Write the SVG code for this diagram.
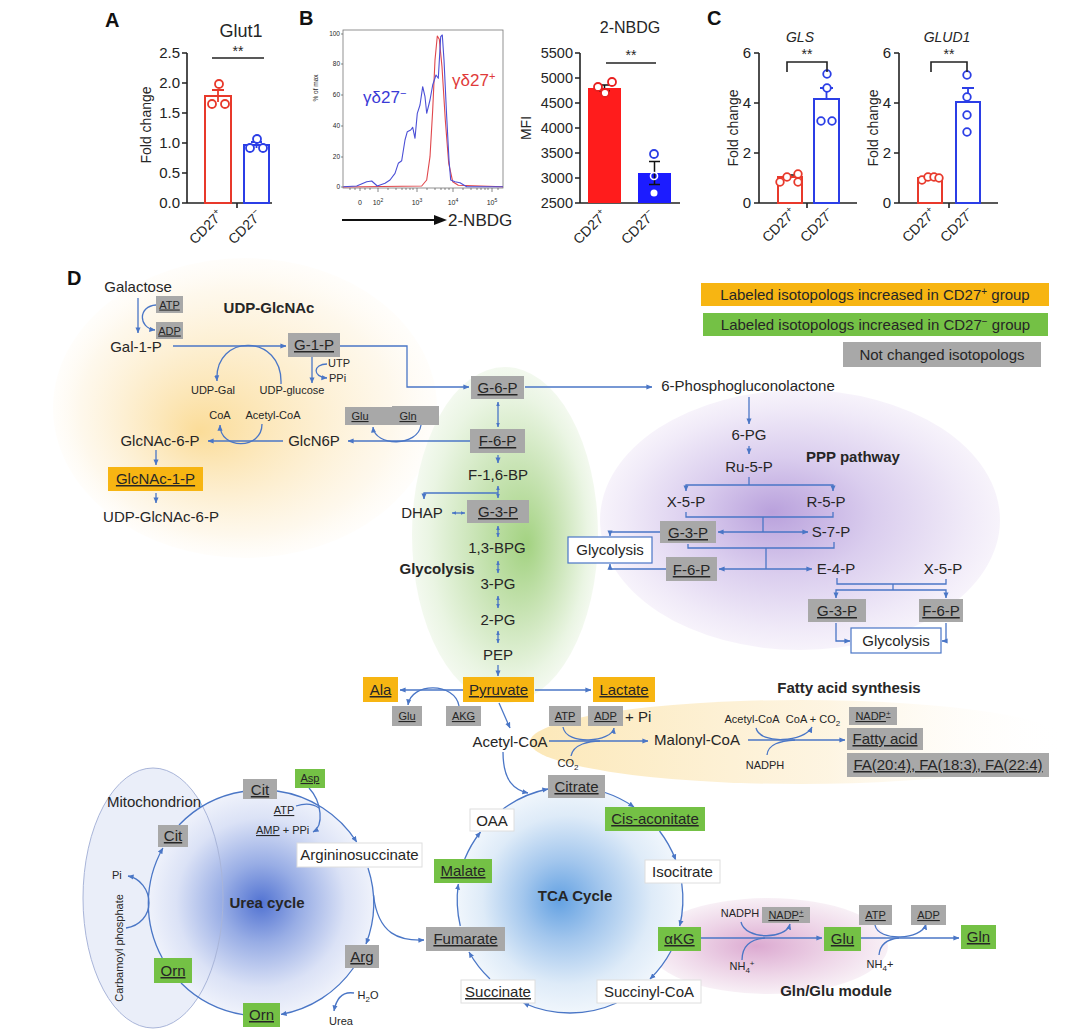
<svg xmlns="http://www.w3.org/2000/svg" width="1078" height="1036" viewBox="0 0 1078 1036">
<defs>
<style>
text{font-family:"Liberation Sans",Arial,Helvetica,sans-serif;fill:#262626}
.m{font-size:15px;text-anchor:middle}
.s{font-size:11px;text-anchor:middle}
.b{font-size:15px;font-weight:bold;text-anchor:middle}
.u{text-decoration:underline}
.ln{fill:none;stroke:#4a76c6;stroke-width:1.3}
.ar{marker-end:url(#ah)}
.da{marker-start:url(#ah2);marker-end:url(#ah2)}
.gy{fill:#a8a8a8}
.or{fill:#f7b512}
.gr{fill:#74c145}
.wb{fill:#fff;stroke:#dedede;stroke-width:1}
.bb{fill:#fff;stroke:#4a76c6;stroke-width:1.2}
.ax{stroke:#222;stroke-width:1.6;fill:none}
.tk{font-size:15px;text-anchor:end;fill:#222}
.pl{font-size:20px;font-weight:bold;fill:#111}
.rc{fill:#fff;stroke:#e8392b;stroke-width:1.8}
.bc{fill:#fff;stroke:#2b3ee6;stroke-width:1.8}
</style>
<marker id="ah" viewBox="0 0 8 8" refX="7.5" refY="4" markerWidth="6" markerHeight="6" markerUnits="userSpaceOnUse" orient="auto-start-reverse"><path d="M0,0.6 L8,4 L0,7.4 Z" fill="#4a76c6"/></marker>
<marker id="ah2" viewBox="0 0 8 8" refX="7.5" refY="4" markerWidth="4.5" markerHeight="4.5" markerUnits="userSpaceOnUse" orient="auto-start-reverse"><path d="M0,0.6 L8,4 L0,7.4 Z" fill="#4a76c6"/></marker>
<radialGradient id="gY" cx="0.5" cy="0.5" r="0.5" fx="0.38" fy="0.58">
<stop offset="0" stop-color="#f9cd6c" stop-opacity="0.7"/><stop offset="0.45" stop-color="#fbdfa3" stop-opacity="0.55"/><stop offset="0.82" stop-color="#fdf0d6" stop-opacity="0.45"/><stop offset="1" stop-color="#fff9ee" stop-opacity="0.25"/></radialGradient>
<radialGradient id="gG" cx="0.5" cy="0.5" r="0.5" fx="0.62" fy="0.53">
<stop offset="0" stop-color="#a3d281"/><stop offset="0.5" stop-color="#cde6bb"/><stop offset="0.85" stop-color="#eaf5e3"/><stop offset="1" stop-color="#f3f9ef"/></radialGradient>
<radialGradient id="gP" cx="0.5" cy="0.5" r="0.5" fx="0.43" fy="0.47">
<stop offset="0" stop-color="#b9a1dc"/><stop offset="0.45" stop-color="#dacdee"/><stop offset="0.85" stop-color="#f0eaf8"/><stop offset="1" stop-color="#f7f3fb"/></radialGradient>
<linearGradient id="gF" x1="0" y1="0" x2="1" y2="0">
<stop offset="0" stop-color="#fce8b8"/><stop offset="0.55" stop-color="#fdf2da" stop-opacity="0.8"/><stop offset="1" stop-color="#ffffff" stop-opacity="0"/></linearGradient>
<radialGradient id="gK" cx="0.5" cy="0.5" r="0.5" fx="0.45" fy="0.5">
<stop offset="0" stop-color="#dcaad1"/><stop offset="0.6" stop-color="#eed6e8"/><stop offset="1" stop-color="#f8f0f6"/></radialGradient>
<radialGradient id="gU" cx="0.5" cy="0.5" r="0.5">
<stop offset="0" stop-color="#5273d2"/><stop offset="0.35" stop-color="#98ade5"/><stop offset="0.75" stop-color="#dbe2f6"/><stop offset="1" stop-color="#eff2fb"/></radialGradient>
<radialGradient id="gT" cx="0.5" cy="0.5" r="0.5" fx="0.45" fy="0.5">
<stop offset="0" stop-color="#63a1e2"/><stop offset="0.35" stop-color="#a2c6ed"/><stop offset="0.75" stop-color="#deebf8"/><stop offset="1" stop-color="#f0f6fc"/></radialGradient>
</defs>
<rect width="1078" height="1036" fill="#fff"/>

<!-- ===== Panel A ===== -->
<g id="panelA">
<text class="pl" x="105" y="27">A</text>
<text x="241" y="37" font-size="18" text-anchor="middle">Glut1</text>
<path class="ax" d="M187,53 V203 H272 M182,53H187 M182,83H187 M182,113H187 M182,143H187 M182,173H187 M182,203H187 M237,203V208"/>
<text class="tk" x="180" y="58">2.5</text><text class="tk" x="180" y="88">2.0</text><text class="tk" x="180" y="118">1.5</text><text class="tk" x="180" y="148">1.0</text><text class="tk" x="180" y="178">0.5</text><text class="tk" x="180" y="208">0.0</text>
<text x="151" y="125" font-size="14" text-anchor="middle" transform="rotate(-90 151 125)">Fold change</text>
<rect x="205" y="96" width="26" height="107" fill="#fff" stroke="#e8392b" stroke-width="2"/>
<rect x="244" y="145" width="25" height="58" fill="#fff" stroke="#2b3ee6" stroke-width="2"/>
<path d="M218,90V102 M212,90H224" stroke="#e8392b" stroke-width="1.8"/>
<path d="M256.5,142V148 M251,142H262" stroke="#2b3ee6" stroke-width="1.8"/>
<circle class="rc" cx="219" cy="84" r="4"/><circle class="rc" cx="212" cy="104" r="4"/><circle class="rc" cx="225" cy="104" r="4"/>
<circle class="bc" cx="257" cy="139" r="4"/><circle class="bc" cx="250" cy="148" r="4"/><circle class="bc" cx="263" cy="148" r="4"/>
<path d="M212,58H264" stroke="#222" stroke-width="1.6"/>
<text x="238" y="56" font-size="14" text-anchor="middle">**</text>
<text x="224" y="216" font-size="14" text-anchor="end" transform="rotate(-45 224 216)">CD27<tspan dy="-6" font-size="9">+</tspan></text>
<text x="263" y="216" font-size="14" text-anchor="end" transform="rotate(-45 263 216)">CD27<tspan dy="-6" font-size="9">−</tspan></text>
</g>

<!-- ===== Panel B (histogram) ===== -->
<g id="panelB1">
<text class="pl" x="299" y="25">B</text>
<rect x="343" y="30" width="160" height="158" fill="none" stroke="#777" stroke-width="0.8"/>
<g font-size="6.5" text-anchor="end"><text x="340" y="36">100</text><text x="340" y="66">80</text><text x="340" y="97">60</text><text x="340" y="128">40</text><text x="340" y="159">20</text><text x="340" y="189">0</text></g>
<path d="M341,34H343 M341,64H343 M341,95H343 M341,126H343 M341,157H343 M341,187H343 M360,188V191 M378,188V192 M417,188V192 M453,188V192 M492,188V192 M350,188V190 M355,188V190 M365,188V190 M370,188V190 M388,188V190 M396,188V190 M402,188V190 M406,188V190 M410,188V190 M413,188V190 M427,188V190 M435,188V190 M441,188V190 M445,188V190 M449,188V190 M463,188V190 M471,188V190 M477,188V190 M481,188V190 M485,188V190 M488,188V190 M498,188V190" stroke="#555" stroke-width="0.7"/>
<text x="318" y="88" font-size="6.5" text-anchor="middle" transform="rotate(-90 318 88)">% of max</text>
<g font-size="7" text-anchor="middle"><text x="360" y="205">0</text><text x="378" y="205">10<tspan dy="-3" font-size="5">2</tspan></text><text x="417" y="205">10<tspan dy="-3" font-size="5">3</tspan></text><text x="453" y="205">10<tspan dy="-3" font-size="5">4</tspan></text><text x="492" y="205">10<tspan dy="-3" font-size="5">5</tspan></text></g>
<polyline fill="none" stroke="#e0474c" stroke-width="1.1" stroke-linejoin="round" points="343,187 421.7,186 426.7,180 430,156.7 432.7,110 435,60 437.3,36 439.3,39.3 442,66.7 445.3,120 448.7,163.3 452.7,181.7 458.3,185.3 503,186.7"/>
<polyline fill="none" stroke="#4b4fd6" stroke-width="1.1" stroke-linejoin="round" points="343.3,186.7 356.7,186 366.7,181.7 371.7,181 377.3,186 385,183.3 390,180 395,173.3 398.3,163.3 401.7,160.7 405,140 407.3,131.7 410.7,130 412.7,127.3 415,138.3 417.3,113.3 420,105 422.7,86.7 425,96.7 426.7,113.3 430,100 432.7,85 436,75 438.3,78.3 440.7,36.7 442.3,35 444,60 446.7,116.7 449,160 450.7,180 455,181.7 460,182.7 466.7,186.7 503,186.7"/>
<text x="363" y="103" font-size="17" style="fill:#3a3ad6">γδ27<tspan dy="-6" font-size="11" style="fill:#3a3ad6">−</tspan></text>
<text x="452" y="86" font-size="17" style="fill:#e03a3a">γδ27<tspan dy="-6" font-size="11" style="fill:#e03a3a">+</tspan></text>
<path d="M342,220H437" stroke="#111" stroke-width="2"/>
<polygon points="434,215 447,220 434,225" fill="#111"/>
<text x="448" y="226" font-size="17">2-NBDG</text>
</g>

<!-- ===== Panel B (bar) ===== -->
<g id="panelB2">
<text x="630" y="33" font-size="16" text-anchor="middle">2-NBDG</text>
<path class="ax" d="M580,53V203H680 M575,53H580 M575,78H580 M575,103H580 M575,128H580 M575,153H580 M575,178H580 M575,203H580"/>
<g font-size="14.5" text-anchor="end"><text x="573" y="58">5500</text><text x="573" y="83">5000</text><text x="573" y="108">4500</text><text x="573" y="133">4000</text><text x="573" y="158">3500</text><text x="573" y="183">3000</text><text x="573" y="208">2500</text></g>
<text x="531" y="128" font-size="14" text-anchor="middle" transform="rotate(-90 531 128)">MFI</text>
<rect x="588" y="88" width="33" height="115" fill="#ff1c1c"/>
<rect x="638" y="173" width="33" height="30" fill="#1c1cff"/>
<path d="M604.5,85V91 M599,85H610 M599,91H610 M654.5,161.5V184.5 M649,161.5H660 M649,184.5H660" stroke="#111" stroke-width="1.5"/>
<circle cx="598" cy="87" r="4" fill="#fff" stroke="#e82020" stroke-width="1.8"/><circle cx="612" cy="82" r="4" fill="#fff" stroke="#e82020" stroke-width="1.8"/><circle cx="605" cy="93" r="4" fill="#fff" stroke="#e82020" stroke-width="1.8"/>
<circle cx="654" cy="154" r="4" fill="#fff" stroke="#2b3ee6" stroke-width="1.8"/><circle cx="654" cy="176" r="3.5" fill="none" stroke="#fff" stroke-width="1.6"/><circle cx="654" cy="193" r="3.5" fill="#fff"/>
<path d="M606,63H656" stroke="#222" stroke-width="1.6"/>
<text x="631" y="60" font-size="14" text-anchor="middle">**</text>
<text x="608" y="216" font-size="14" text-anchor="end" transform="rotate(-45 608 216)">CD27<tspan dy="-6" font-size="9">+</tspan></text>
<text x="656" y="216" font-size="14" text-anchor="end" transform="rotate(-45 656 216)">CD27<tspan dy="-6" font-size="9">−</tspan></text>
</g>

<!-- ===== Panel C ===== -->
<g id="panelC1">
<text class="pl" x="707" y="25">C</text>
<text x="800" y="42" font-size="14" font-style="italic" text-anchor="middle">GLS</text>
<path class="ax" d="M759,53V203H857 M754,53H759 M754,103H759 M754,153H759 M754,203H759 M807,203V208"/>
<text class="tk" x="751" y="58">6</text><text class="tk" x="751" y="108">4</text><text class="tk" x="751" y="158">2</text><text class="tk" x="751" y="208">0</text>
<text x="738" y="128" font-size="14" text-anchor="middle" transform="rotate(-90 738 128)">Fold change</text>
<rect x="778" y="177" width="24" height="26" fill="#fff" stroke="#e8392b" stroke-width="2"/>
<rect x="814" y="99" width="25" height="104" fill="#fff" stroke="#2b3ee6" stroke-width="2"/>
<path d="M784,175H796" stroke="#222" stroke-width="1.6"/>
<path d="M826.5,88V99 M820,88H833" stroke="#2b3ee6" stroke-width="1.8"/>
<circle class="rc" cx="780" cy="182" r="3.8"/><circle class="rc" cx="787" cy="177" r="3.8"/><circle class="rc" cx="798" cy="174" r="3.8"/><circle class="rc" cx="798" cy="182" r="3.8"/>
<circle class="bc" cx="827" cy="74" r="3.8"/><circle class="bc" cx="827" cy="88" r="3.8"/><circle class="bc" cx="821" cy="121" r="3.8"/><circle class="bc" cx="832" cy="121" r="3.8"/>
<path d="M787,72V62H827V72" fill="none" stroke="#222" stroke-width="1.6"/>
<text x="807" y="59" font-size="14" text-anchor="middle">**</text>
<text x="797" y="214" font-size="14" text-anchor="end" transform="rotate(-45 797 214)">CD27<tspan dy="-6" font-size="9">+</tspan></text>
<text x="835" y="214" font-size="14" text-anchor="end" transform="rotate(-45 835 214)">CD27<tspan dy="-6" font-size="9">−</tspan></text>
</g>
<g id="panelC2">
<text x="947" y="42" font-size="14" font-style="italic" text-anchor="middle">GLUD1</text>
<path class="ax" d="M899,53V203H998 M894,53H899 M894,103H899 M894,153H899 M894,203H899 M949,203V208"/>
<text class="tk" x="891" y="58">6</text><text class="tk" x="891" y="108">4</text><text class="tk" x="891" y="158">2</text><text class="tk" x="891" y="208">0</text>
<text x="878" y="128" font-size="14" text-anchor="middle" transform="rotate(-90 878 128)">Fold change</text>
<rect x="918" y="178" width="24" height="25" fill="#fff" stroke="#e8392b" stroke-width="2"/>
<rect x="956" y="102" width="24" height="101" fill="#fff" stroke="#2b3ee6" stroke-width="2"/>
<path d="M924,177H936" stroke="#222" stroke-width="1.6"/>
<path d="M968,88V102 M962,88H974" stroke="#2b3ee6" stroke-width="1.8"/>
<circle class="rc" cx="922" cy="180" r="3.8"/><circle class="rc" cx="928" cy="177" r="3.8"/><circle class="rc" cx="934" cy="177" r="3.8"/><circle class="rc" cx="939" cy="178" r="3.8"/>
<circle class="bc" cx="967" cy="75" r="3.8"/><circle class="bc" cx="967" cy="97" r="3.8"/><circle class="bc" cx="967" cy="115" r="3.8"/><circle class="bc" cx="967" cy="132" r="3.8"/>
<path d="M931,72V62H967V72" fill="none" stroke="#222" stroke-width="1.6"/>
<text x="949" y="59" font-size="14" text-anchor="middle">**</text>
<text x="937" y="214" font-size="14" text-anchor="end" transform="rotate(-45 937 214)">CD27<tspan dy="-6" font-size="9">+</tspan></text>
<text x="975" y="214" font-size="14" text-anchor="end" transform="rotate(-45 975 214)">CD27<tspan dy="-6" font-size="9">−</tspan></text>
</g>

<!-- ===== Panel D backgrounds ===== -->
<g id="backgrounds">
<ellipse cx="245" cy="408" rx="192" ry="150" fill="url(#gY)"/>
<ellipse cx="505" cy="535" rx="93" ry="168" fill="url(#gG)"/>
<ellipse cx="800" cy="520" rx="200" ry="130" fill="url(#gP)"/>
<ellipse cx="800" cy="742" rx="270" ry="42" fill="url(#gF)"/>
<ellipse cx="768" cy="946" rx="120" ry="48" fill="url(#gK)"/>
<ellipse cx="153" cy="898" rx="70" ry="130" fill="#eaeef9"/>
<circle cx="261" cy="903" r="113" fill="url(#gU)"/>
<ellipse cx="153" cy="898" rx="70" ry="130" fill="none" stroke="#a9b5d9" stroke-width="1"/>
<circle cx="570" cy="900" r="113" fill="url(#gT)"/>
</g>
<text class="pl" x="67" y="285">D</text>

<!-- ===== Connectors ===== -->
<g id="connectors">
<path class="ln ar" d="M138,298V333"/>
<path class="ln ar" d="M156,305C138,306 138,328 155,330"/>
<path class="ln ar" d="M173,346H286"/>
<path class="ln ar" d="M340,346H407V387H469"/>
<path class="ln ar" d="M312,357V383"/>
<path class="ln ar" d="M327,364C313,364 312,377 327,378"/>
<path class="ln ar" d="M281,384C283,333 214,333 217,381"/>
<path class="ln ar" d="M262,424C262,450 220,450 220,425"/>
<path class="ln ar" d="M470,441H348"/>
<path class="ln ar" d="M421,425C418,447 375,447 373,427"/>
<path class="ln ar" d="M283,441H208"/>
<path class="ln ar" d="M156,450V465"/>
<path class="ln ar" d="M156,493V503"/>

<path class="ln da" d="M498,402V427"/>
<path class="ln ar" d="M498,455V463"/>
<path class="ln da" d="M498,486V498"/>
<path class="ln ar" d="M498,493H424V499"/>
<path class="ln da" d="M452,513H465"/>
<path class="ln da" d="M498,526V537"/>
<path class="ln da" d="M498,561V573"/>
<path class="ln da" d="M498,596V608"/>
<path class="ln da" d="M498,631V643"/>
<path class="ln ar" d="M498,665V676"/>

<path class="ln ar" d="M525,387H652"/>
<path class="ln ar" d="M749,397V424"/>
<path class="ln ar" d="M749,446V454"/>
<path class="ln" d="M749,477V485"/>
<path class="ln ar" d="M749,485H686V491"/>
<path class="ln ar" d="M749,485H833V491"/>
<path class="ln" d="M686,512V517H833V512 M763,517V532"/>
<path class="ln ar" d="M763,532H718"/>
<path class="ln ar" d="M763,532H808"/>
<path class="ln" d="M688,544V548H834V542 M766,548V569"/>
<path class="ln ar" d="M766,569H719"/>
<path class="ln ar" d="M766,569H812"/>
<path class="ln" d="M837,578V584H946V579 M893,584V590"/>
<path class="ln ar" d="M893,590H836V598"/>
<path class="ln ar" d="M893,590H946V598"/>
<path class="ln ar" d="M836,623V641H850"/>
<path class="ln ar" d="M946,623V641H942"/>
<path class="ln ar" d="M660,532H610V536"/>
<path class="ln ar" d="M666,569H610V564"/>

<path class="ln ar" d="M463,690H400"/>
<path class="ln ar" d="M459,706C455,682 411,682 408,705"/>
<path class="ln ar" d="M535,690H591"/>
<path class="ln ar" d="M499,703L510,728"/>
<path class="ln ar" d="M549,741H648"/>
<path class="ln ar" d="M563,727C566,746 612,742 614,728"/>
<path class="ln" d="M571,756C573,744 590,741 600,741"/>
<path class="ln ar" d="M503,752C503,782 515,790 528,793"/>
<path class="ln ar" d="M748,740H845"/>
<path class="ln ar" d="M756,728C760,745 805,742 812,727"/>
<path class="ln" d="M767,755C768,744 780,741 795,740"/>

<path class="ln ar" d="M605,792.5A113,113 0 0,1 634,807"/>
<path class="ln ar" d="M659.5,831A113,113 0 0,1 675.7,860"/>
<path class="ln ar" d="M681.7,883A113,113 0 0,1 679.7,926"/>
<path class="ln ar" d="M671,951A113,113 0 0,1 650,979"/>
<path class="ln ar" d="M616.5,1003A113,113 0 0,1 523.5,1003"/>
<path class="ln ar" d="M490,979A113,113 0 0,1 469,952"/>
<path class="ln ar" d="M460.3,926A113,113 0 0,1 458.3,884"/>
<path class="ln ar" d="M464.7,859A113,113 0 0,1 480.5,832"/>
<path class="ln ar" d="M503,809A113,113 0 0,1 548,789"/>

<path class="ln ar" d="M701,938H822"/>
<path class="ln ar" d="M741,922C745,940 786,940 790,924"/>
<path class="ln" d="M742,960C742,945 752,939 765,938"/>
<path class="ln ar" d="M861,938H959"/>
<path class="ln ar" d="M875,925C878,942 922,940 926,924"/>
<path class="ln" d="M879,955C880,944 888,939 899,938"/>

<path class="ln ar" d="M277,791A113,113 0 0,1 356.7,842"/>
<path class="ln ar" d="M368,868A113,113 0 0,1 366,944"/>
<path class="ln ar" d="M373.5,895C378,935 400,941 424,940"/>
<path class="ln ar" d="M353.4,968A113,113 0 0,1 281,1014.4"/>
<path class="ln ar" d="M354,993C341,991 336,1000 334,1011"/>
<path class="ln" d="M243,1014.6A113,113 0 0,1 181,983"/>
<path class="ln ar" d="M162.3,958A113,113 0 0,1 162.9,848"/>
<path class="ln" d="M179,825A113,113 0 0,1 243,791.5"/>
<path class="ln ar" d="M126,928C140,926 149,915 149,903C149,890 140,878 128,876"/>
<path class="ln ar" d="M309,788C322,802 324,826 313,832"/>
<path class="ln" d="M296,806C305,803 312,803 319,808"/>
</g>

<!-- ===== Legend ===== -->
<g id="legend-cd27pos"><rect class="or" x="701" y="283" width="348" height="23"/><text class="m" x="875" y="300">Labeled isotopologs increased in CD27<tspan dy="-5" font-size="10">+</tspan><tspan dy="5"> group</tspan></text></g>
<g id="legend-cd27neg"><rect class="gr" x="703" y="313" width="345" height="23"/><text class="m" x="875.5" y="330">Labeled isotopologs increased in CD27<tspan dy="-5" font-size="10">−</tspan><tspan dy="5"> group</tspan></text></g>
<g id="legend-nc"><rect class="gy" x="843" y="342" width="198" height="25"/><text class="m" x="942" y="360">Not changed isotopologs</text></g>

<!-- ===== UDP-GlcNAc ===== -->
<g id="n-galactose"><text class="m" x="138" y="292">Galactose</text></g>
<g id="n-atp1"><rect class="gy" x="156" y="296" width="27" height="17"/><text class="s u" x="169.5" y="308.5">ATP</text></g>
<g id="n-adp1"><rect class="gy" x="156" y="322" width="27" height="17"/><text class="s u" x="169.5" y="334.5">ADP</text></g>
<g id="n-gal1p"><text class="m" x="136" y="352">Gal-1-P</text></g>
<g id="l-udpglcnac"><text class="b" x="269" y="313">UDP-GlcNAc</text></g>
<g id="n-g1p"><rect class="gy" x="288" y="333" width="52" height="24"/><text class="m u" x="314" y="350">G-1-P</text></g>
<g id="n-utp"><text x="328" y="367" font-size="11">UTP</text></g>
<g id="n-ppi1"><text x="329" y="382" font-size="11">PPi</text></g>
<g id="n-udpgal"><text class="s" x="213" y="394">UDP-Gal</text></g>
<g id="n-udpglucose"><text class="s" x="292" y="394">UDP-glucose</text></g>
<g id="n-coa1"><text class="s" x="220" y="419">CoA</text></g>
<g id="n-acetylcoa1"><text class="s" x="273" y="419">Acetyl-CoA</text></g>
<g id="n-glcnac6p"><text class="m" x="160" y="446">GlcNAc-6-P</text></g>
<g id="n-glcn6p"><text class="m" x="314" y="446">GlcN6P</text></g>
<g id="n-glu1"><rect class="gy" x="345" y="407" width="47" height="18"/><text class="s u" x="360" y="420">Glu</text></g>
<g id="n-gln1"><rect class="gy" x="392" y="406" width="47" height="19"/><text class="s u" x="408" y="420">Gln</text></g>
<g id="n-glcnac1p"><rect class="or" x="108" y="467" width="95" height="24"/><text class="m u" x="155.5" y="484">GlcNAc-1-P</text></g>
<g id="n-udpglcnac6p"><text class="m" x="161" y="522">UDP-GlcNAc-6-P</text></g>

<!-- ===== Glycolysis ===== -->
<g id="n-g6p"><rect class="gy" x="471" y="376" width="53" height="23"/><text class="m u" x="497.5" y="393">G-6-P</text></g>
<g id="n-f6p"><rect class="gy" x="470" y="429" width="55" height="24"/><text class="m u" x="497.5" y="446">F-6-P</text></g>
<g id="n-f16bp"><text class="m" x="498" y="480">F-1,6-BP</text></g>
<g id="n-dhap"><text class="m" x="422" y="518">DHAP</text></g>
<g id="n-g3p"><rect class="gy" x="467" y="500" width="62" height="23"/><text class="m u" x="498" y="517">G-3-P</text></g>
<g id="n-bpg"><text class="m" x="497" y="553">1,3-BPG</text></g>
<g id="l-glycolysis"><text class="b" x="437" y="574">Glycolysis</text></g>
<g id="n-3pg"><text class="m" x="498" y="589">3-PG</text></g>
<g id="n-2pg"><text class="m" x="498" y="625">2-PG</text></g>
<g id="n-pep"><text class="m" x="498" y="660">PEP</text></g>

<!-- ===== PPP ===== -->
<g id="n-6pgl"><text class="m" x="748" y="391">6-Phosphogluconolactone</text></g>
<g id="n-6pg"><text class="m" x="749" y="440">6-PG</text></g>
<g id="n-ru5p"><text class="m" x="749" y="472">Ru-5-P</text></g>
<g id="l-ppp"><text class="b" x="853" y="462">PPP pathway</text></g>
<g id="n-x5p1"><text class="m" x="686" y="507">X-5-P</text></g>
<g id="n-r5p"><text class="m" x="826" y="507">R-5-P</text></g>
<g id="n-g3p2"><rect class="gy" x="660" y="521" width="56" height="22"/><text class="m u" x="688" y="538">G-3-P</text></g>
<g id="n-s7p"><text class="m" x="831" y="537">S-7-P</text></g>
<g id="n-f6p2"><rect class="gy" x="666" y="557" width="51" height="24"/><text class="m u" x="691.5" y="575">F-6-P</text></g>
<g id="n-e4p"><text class="m" x="836" y="574">E-4-P</text></g>
<g id="n-x5p2"><text class="m" x="943" y="574">X-5-P</text></g>
<g id="n-g3p3"><rect class="gy" x="808" y="599" width="58" height="23"/><text class="m u" x="837" y="616">G-3-P</text></g>
<g id="n-f6p3"><rect class="gy" x="919" y="599" width="44" height="23"/><text class="m u" x="941" y="616">F-6-P</text></g>
<g id="n-glyco2"><rect class="bb" x="851" y="628" width="90" height="25"/><text class="m" x="896" y="646">Glycolysis</text></g>
<g id="n-glyco1"><rect class="bb" x="568" y="537" width="84" height="26"/><text class="m" x="610" y="555">Glycolysis</text></g>

<!-- ===== Pyruvate / fatty acid ===== -->
<g id="n-ala"><rect class="or" x="363" y="677" width="35" height="25"/><text class="m u" x="380.5" y="695">Ala</text></g>
<g id="n-pyruvate"><rect class="or" x="463" y="677" width="71" height="25"/><text class="m u" x="498.5" y="695">Pyruvate</text></g>
<g id="n-lactate"><rect class="or" x="593" y="677" width="62" height="25"/><text class="m u" x="624" y="695">Lactate</text></g>
<g id="n-glu2"><rect class="gy" x="392" y="706" width="30" height="20"/><text class="s u" x="407" y="720">Glu</text></g>
<g id="n-akg1"><rect class="gy" x="446" y="706" width="35" height="20"/><text class="s u" x="463.5" y="720">AKG</text></g>
<g id="n-acetylcoa2"><text class="m" x="510" y="747">Acetyl-CoA</text></g>
<g id="n-atp2"><rect class="gy" x="549" y="706" width="32" height="20"/><text class="s u" x="565" y="720">ATP</text></g>
<g id="n-adp2"><rect class="gy" x="588" y="706" width="35" height="20"/><text class="s u" x="605.5" y="720">ADP</text><text x="625" y="722" font-size="15">+ Pi</text></g>
<g id="n-co2"><text class="s" x="568" y="767">CO<tspan dy="3" font-size="8">2</tspan></text></g>
<g id="n-malonyl"><text class="m" x="697" y="745">Malonyl-CoA</text></g>
<g id="l-fas"><text class="b" x="849" y="693">Fatty acid synthesis</text></g>
<g id="n-acetylcoa3"><text class="s" x="752" y="723">Acetyl-CoA</text></g>
<g id="n-coaco2"><text class="s" x="813" y="723">CoA + CO<tspan dy="3" font-size="8">2</tspan></text></g>
<g id="n-nadp1"><rect class="gy" x="849" y="707" width="48" height="18"/><text class="s u" x="873" y="720">NADP<tspan dy="-4" font-size="8">+</tspan></text></g>
<g id="n-nadph1"><text class="s" x="765" y="769">NADPH</text></g>
<g id="n-fattyacid"><rect class="gy" x="847" y="728" width="76" height="22"/><text class="m u" x="885" y="744">Fatty acid</text></g>
<g id="n-fa"><rect class="gy" x="847" y="753" width="202" height="24"/><text class="m u" x="948" y="770">FA(20:4), FA(18:3), FA(22:4)</text></g>

<!-- ===== TCA ===== -->
<g id="n-citrate"><rect class="gy" x="548" y="775" width="57" height="23"/><text class="m u" x="576.5" y="792">Citrate</text></g>
<g id="n-cisacon"><rect class="gr" x="605" y="807" width="100" height="24"/><text class="m u" x="655" y="824">Cis-aconitate</text></g>
<g id="n-oaa"><rect class="wb" x="470" y="809" width="44" height="22"/><text class="m" x="492" y="826">OAA</text></g>
<g id="n-isocitrate"><rect class="wb" x="645" y="860" width="75" height="23"/><text class="m" x="682.5" y="877">Isocitrate</text></g>
<g id="n-malate"><rect class="gr" x="434" y="859" width="58" height="24"/><text class="m u" x="463" y="876">Malate</text></g>
<g id="l-tca"><text class="b" x="575" y="901">TCA Cycle</text></g>
<g id="n-fumarate"><rect class="gy" x="426" y="927" width="79" height="24"/><text class="m u" x="465.5" y="944">Fumarate</text></g>
<g id="n-succinate"><rect class="wb" x="461" y="980" width="74" height="23"/><text class="m u" x="498" y="997">Succinate</text></g>
<g id="n-succinylcoa"><rect class="wb" x="597" y="980" width="104" height="23"/><text class="m" x="649" y="997">Succinyl-CoA</text></g>
<g id="n-akg2"><rect class="gr" x="658" y="927" width="43" height="24"/><text class="m u" x="679.5" y="944">αKG</text></g>

<!-- ===== Gln/Glu module ===== -->
<g id="n-nadph2"><text class="s" x="740" y="917">NADPH</text></g>
<g id="n-nadp2"><rect class="gy" x="762" y="907" width="48" height="16"/><text class="s u" x="786" y="919">NADP<tspan dy="-4" font-size="8">+</tspan></text></g>
<g id="n-glu3"><rect class="gr" x="824" y="927" width="37" height="24"/><text class="m u" x="842.5" y="944">Glu</text></g>
<g id="n-atp3"><rect class="gy" x="859" y="905" width="33" height="20"/><text class="s u" x="875.5" y="919">ATP</text></g>
<g id="n-adp3"><rect class="gy" x="911" y="905" width="35" height="20"/><text class="s u" x="928.5" y="919">ADP</text></g>
<g id="n-gln3"><rect class="gr" x="961" y="925" width="35" height="24"/><text class="m u" x="978.5" y="942">Gln</text></g>
<g id="n-nh4a"><text class="s" x="742" y="970">NH<tspan dy="3" font-size="8">4</tspan><tspan dy="-7" font-size="8">+</tspan></text></g>
<g id="n-nh4b"><text class="s" x="880" y="968">NH<tspan dy="3" font-size="8">4</tspan><tspan dy="-3">+</tspan></text></g>
<g id="l-glnglu"><text class="b" x="836" y="996">Gln/Glu module</text></g>

<!-- ===== Urea cycle ===== -->
<g id="l-mito"><text class="m" x="154" y="807">Mitochondrion</text></g>
<g id="n-cit1"><rect class="gy" x="243" y="779" width="34" height="20"/><text class="m u" x="260" y="795">Cit</text></g>
<g id="n-asp"><rect class="gr" x="295" y="769" width="30" height="19"/><text class="s u" x="310" y="782">Asp</text></g>
<g id="n-atp4"><text class="s u" x="284" y="814">ATP</text></g>
<g id="n-amp"><text x="256" y="834" font-size="11"><tspan class="u">AMP</tspan> + PPi</text></g>
<g id="n-argsucc"><rect class="wb" x="297" y="843" width="125" height="24"/><text class="m" x="359.5" y="860">Argininosuccinate</text></g>
<g id="n-cit2"><rect class="gy" x="158" y="825" width="30" height="22"/><text class="m u" x="173" y="841">Cit</text></g>
<g id="n-pi"><text x="112" y="879" font-size="11">Pi</text></g>
<g id="n-carbamoyl"><text class="s" x="123" y="948" transform="rotate(-90 123 948)">Carbamoyl phosphate</text></g>
<g id="l-urea"><text class="b" x="267" y="908">Urea cycle</text></g>
<g id="n-orn1"><rect class="gr" x="154" y="958" width="38" height="25"/><text class="m u" x="173" y="976">Orn</text></g>
<g id="n-orn2"><rect class="gr" x="243" y="1003" width="37" height="24"/><text class="m u" x="261.5" y="1020">Orn</text></g>
<g id="n-arg"><rect class="gy" x="345" y="945" width="34" height="23"/><text class="m u" x="362" y="962">Arg</text></g>
<g id="n-h2o"><text class="s" x="368" y="999">H<tspan dy="3" font-size="8">2</tspan><tspan dy="-3">O</tspan></text></g>
<g id="n-urea"><text class="s" x="341" y="1025">Urea</text></g>
</svg>
